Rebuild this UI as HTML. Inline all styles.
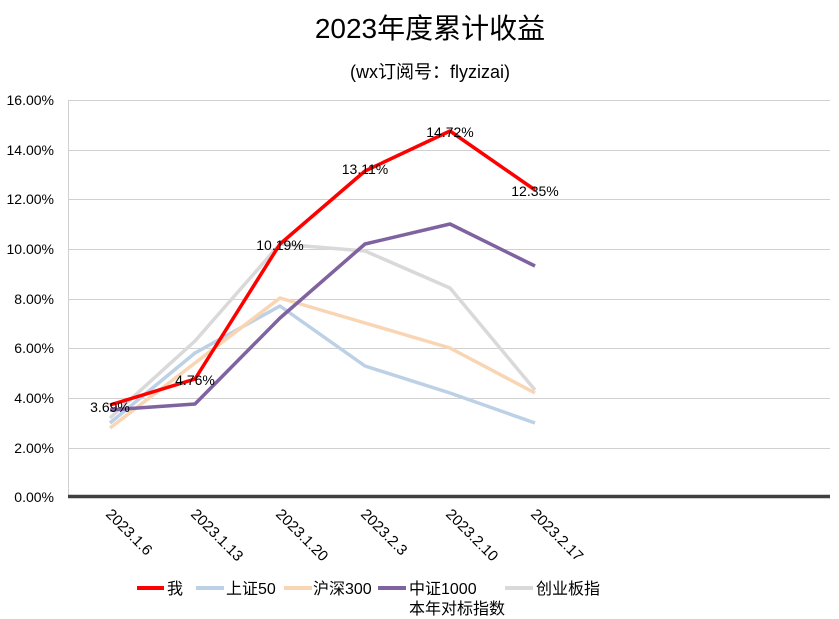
<!DOCTYPE html>
<html><head><meta charset="utf-8"><style>body{margin:0;background:#fff}svg{display:block}text{font-family:"Liberation Sans","Noto Sans CJK SC",sans-serif}</style></head><body>
<svg width="839" height="619" viewBox="0 0 839 619">
<rect width="839" height="619" fill="#fff"/>
<text x="430" y="38" font-size="28" text-anchor="middle" fill="#000">2023年度累计收益</text>
<text x="430" y="78" font-size="18" text-anchor="middle" fill="#000">(wx订阅号：flyzizai)</text>
<g stroke="#d0d0d0" stroke-width="1">
<line x1="68" x2="830" y1="100.5" y2="100.5"/><line x1="68" x2="830" y1="150.5" y2="150.5"/><line x1="68" x2="830" y1="199.5" y2="199.5"/><line x1="68" x2="830" y1="249.5" y2="249.5"/><line x1="68" x2="830" y1="299.5" y2="299.5"/><line x1="68" x2="830" y1="348.5" y2="348.5"/><line x1="68" x2="830" y1="398.5" y2="398.5"/><line x1="68" x2="830" y1="448.5" y2="448.5"/>
<line x1="68.5" x2="68.5" y1="100" y2="497"/>
</g>
<line x1="68" x2="830" y1="496.5" y2="496.5" stroke="#404040" stroke-width="3.5"/>
<g font-size="14" text-anchor="end" fill="#000">
<text x="54" y="105">16.00%</text><text x="54" y="155">14.00%</text><text x="54" y="204">12.00%</text><text x="54" y="254">10.00%</text><text x="54" y="304">8.00%</text><text x="54" y="353">6.00%</text><text x="54" y="403">4.00%</text><text x="54" y="453">2.00%</text><text x="54" y="502">0.00%</text>
</g>
<g font-size="15" fill="#000">
<text transform="translate(105,515) rotate(45)">2023.1.6</text>
<text transform="translate(190,515) rotate(45)">2023.1.13</text>
<text transform="translate(275,515) rotate(45)">2023.1.20</text>
<text transform="translate(360,515) rotate(45)">2023.2.3</text>
<text transform="translate(445,515) rotate(45)">2023.2.10</text>
<text transform="translate(530,515) rotate(45)">2023.2.17</text>
</g>
<g fill="none" stroke-width="3.5" stroke-linejoin="round">
<polyline stroke="#bcd0e6" points="110,423 195,353 280,306 365,366 450,393 535,423"/>
<polyline stroke="#f9d5b4" points="110,428 195,363 280,298 365,323 450,348 535,393"/>
<polyline stroke="#d9d9d9" points="110,418 195,341 280,244 365,251 450,288 535,390"/>
<polyline stroke="#7f62a0" points="110,410 195,404 280,318 365,244 450,224 535,266"/>
<polyline stroke="#ff0000" points="110,405 195,379 280,244 365,171 450,131 535,190"/>
</g>
<g font-size="14" fill="#000" text-anchor="middle">
<text x="110" y="412">3.69%</text><text x="195" y="385">4.76%</text><text x="280" y="250">10.19%</text><text x="365" y="174">13.11%</text><text x="450" y="137">14.72%</text><text x="535" y="196">12.35%</text>
</g>
<g stroke-width="4">
<line x1="137" x2="164" y1="588" y2="588" stroke="#ff0000"/>
<line x1="196" x2="224" y1="588" y2="588" stroke="#bcd0e6"/>
<line x1="284" x2="312" y1="588" y2="588" stroke="#f9d5b4"/>
<line x1="378" x2="406" y1="588" y2="588" stroke="#7f62a0"/>
<line x1="505" x2="533" y1="588" y2="588" stroke="#d9d9d9"/>
</g>
<g font-size="16" fill="#000">
<text x="167" y="594">我</text><text x="226" y="594">上证50</text><text x="313" y="594">沪深300</text><text x="409" y="594">中证1000</text><text x="409" y="614">本年对标指数</text><text x="536" y="594">创业板指</text>
</g>
</svg>
</body></html>
